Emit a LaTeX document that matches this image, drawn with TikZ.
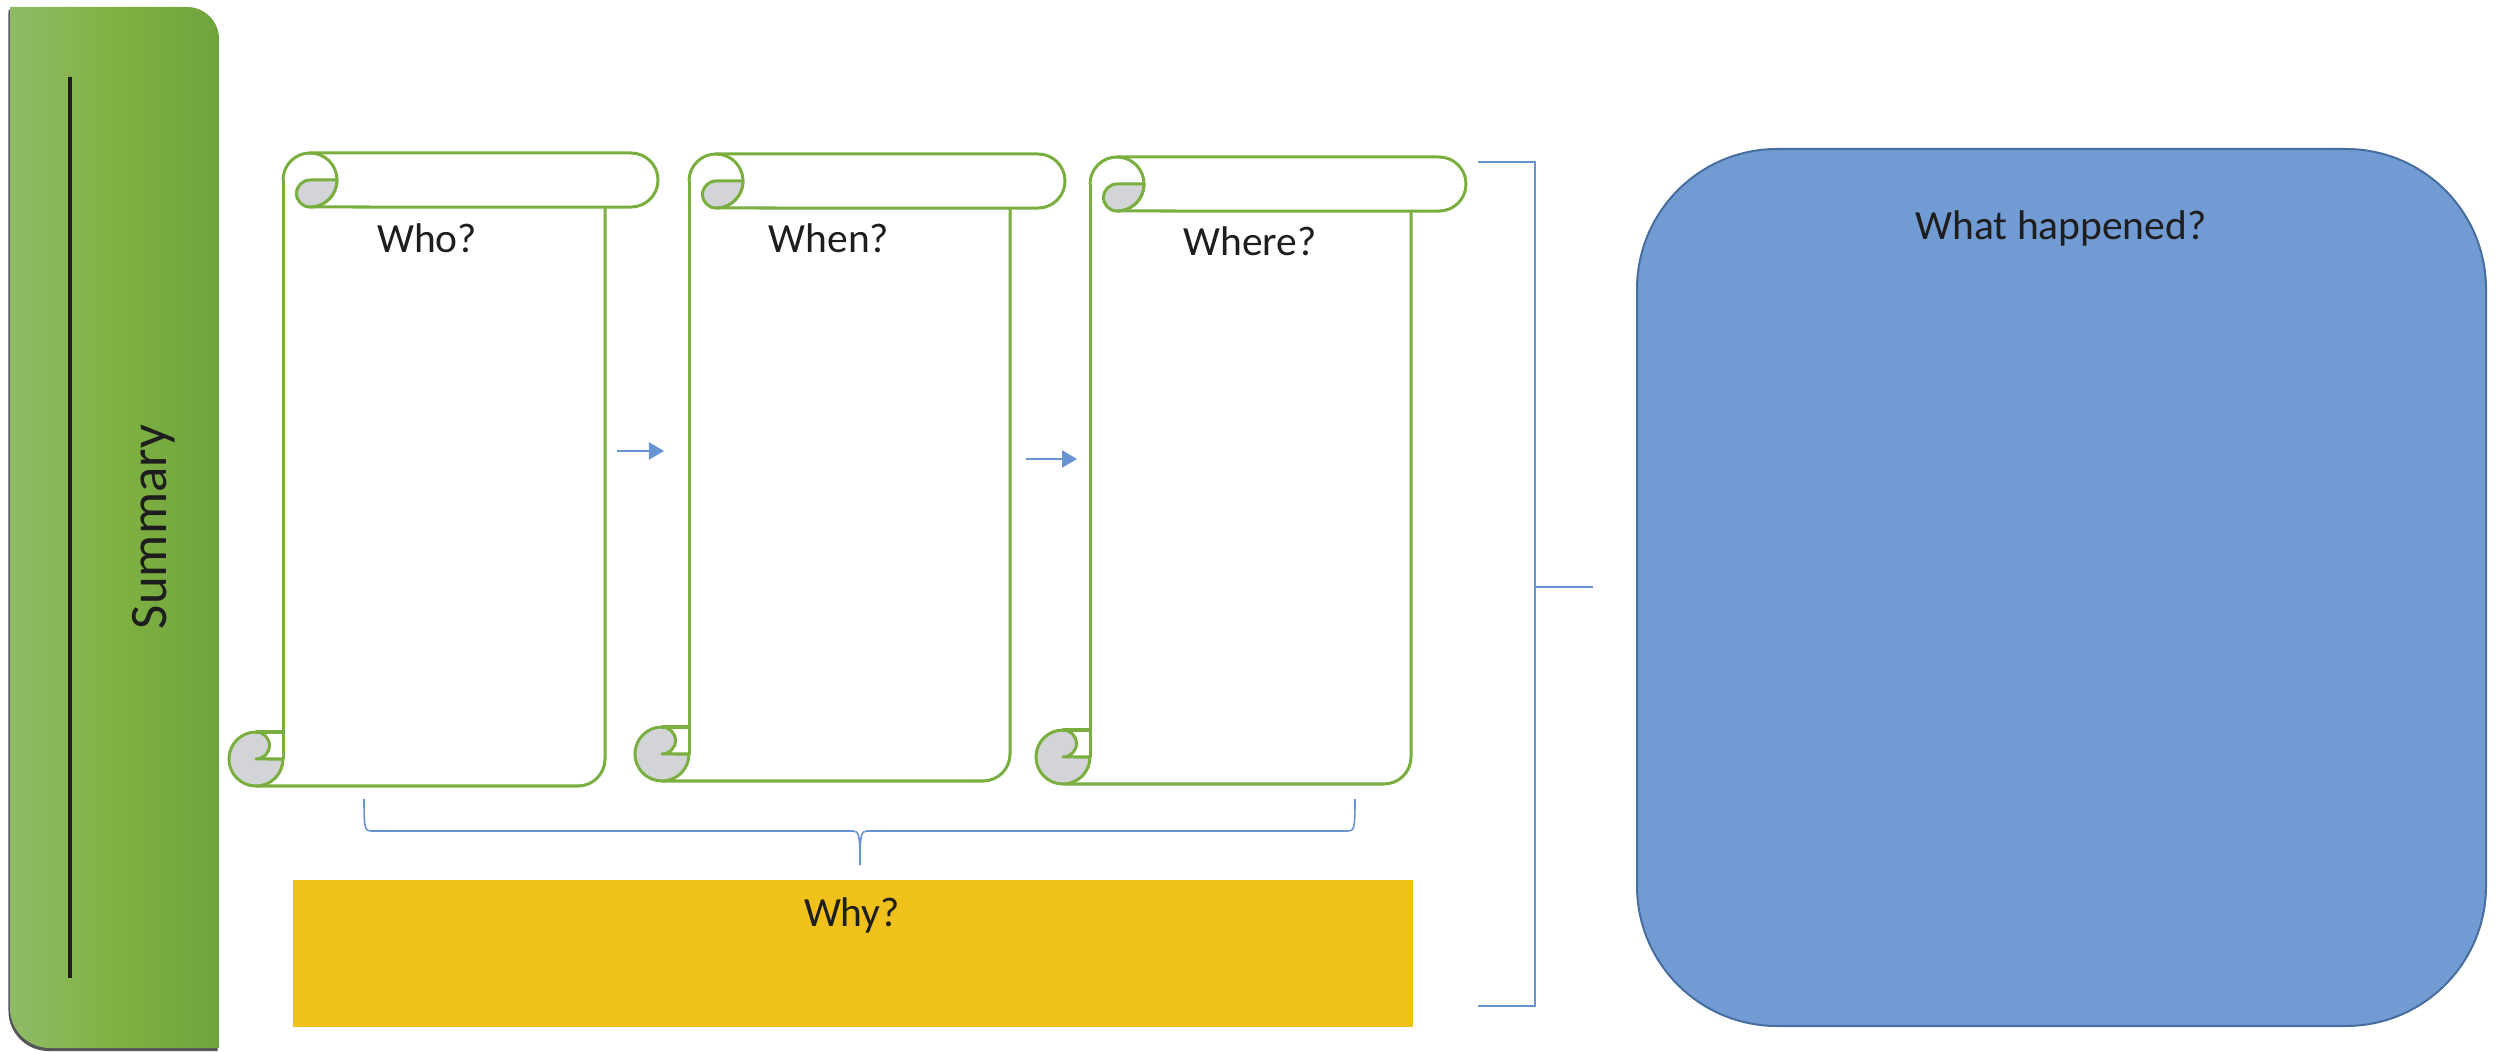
\documentclass[tikz,border=0pt]{standalone}
\usepackage{fontspec}
\setmainfont{Carlito}
\usetikzlibrary{arrows.meta}

\definecolor{scrollgreen}{RGB}{122,174,62}
\definecolor{curlgray}{RGB}{210,212,215}
\definecolor{linkblue}{RGB}{105,148,212}
\definecolor{barleft}{RGB}{143,187,102}
\definecolor{barmid}{RGB}{128,178,66}
\definecolor{barright}{RGB}{111,163,62}
\definecolor{barshadow}{RGB}{85,85,90}
\definecolor{whyfill}{RGB}{240,193,26}
\definecolor{whatfill}{RGB}{113,155,210}
\definecolor{whatline}{RGB}{72,110,160}
\definecolor{labeltext}{RGB}{30,30,30}

\def\scrollr{0.27cm}
\def\scrollq{0.135cm}

% a scroll: #1 name, #2 left, #3 top, #4 body right, #5 bottom, #6 banner right
\newcommand\drawscroll[6]{%
  \draw[scrollline] ({#2},{#3+27}) -- ({#2},{#5-27});
  \draw[scrollline] ({#2-27},{#5}) -- ({#4-27},{#5})
        arc[start angle=-90,end angle=0,radius=\scrollr] -- ({#4},{#3+54});
  \draw[scrollline] ({#2+27},{#3}) -- ({#6-27},{#3})
        arc[start angle=90,end angle=-90,radius=\scrollr] -- ({#2+27},{#3+54});
  \draw[scrollline] ({#2},{#3+27}) arc[start angle=180,end angle=-90,radius=\scrollr];
  \draw[curl] ({#2+27},{#3+27}) -- ({#2+54},{#3+27})
        arc[start angle=0,end angle=-90,radius=\scrollr]
        arc[start angle=270,end angle=90,radius=\scrollq] -- cycle;
  \draw[curl] ({#2},{#5-27})
        arc[start angle=0,end angle=-270,radius=\scrollr]
        arc[start angle=90,end angle=-90,radius=\scrollq] -- cycle;
  \draw[scrollline] ({#2-27},{#5-54}) -- ({#2},{#5-54});
  \coordinate (#1-nw) at ({#2},{#3});
  \coordinate (#1-se) at ({#4},{#5});
}

% outline of the summary bar: square top-left and bottom-right corners
\newcommand\barpath{(10,7) -- (187,7) arc[start angle=90,end angle=0,radius=0.32cm]
     -- (219,1048) -- (50,1048) arc[start angle=-90,end angle=-180,radius=0.4cm] -- cycle}

\begin{document}
\begin{tikzpicture}[x=0.01cm,y=-0.01cm,
  scrollline/.style={draw=scrollgreen,line width=0.03cm,line join=round},
  curl/.style={scrollline,fill=curlgray},
  link/.style={draw=linkblue,line width=0.016cm},
  flow/.style={draw=linkblue,line width=0.022cm,-{Triangle[length=0.15cm,width=0.17cm]}},
  label/.style={text=labeltext,font=\fontsize{11.8}{14}\selectfont,anchor=base,inner sep=0pt}]
\useasboundingbox (0,0) rectangle (2505,1052);

% summary bar with its shadow
\fill[barshadow,shift={(-1.5,3)}] \barpath;
\shade[left color=barleft,right color=barright,middle color=barmid] \barpath;
\coordinate (rule-top) at (70,77);
\coordinate (rule-bot) at (70,978);
\draw[labeltext,line width=0.03cm] (rule-top) -- (rule-bot);
\node[text=labeltext,font=\fontsize{15}{18}\selectfont,rotate=90,inner sep=0pt]
     (summary) at (154,527) {Summary};

% the three scrolls
\drawscroll{s1}{283}{153}{605}{786}{658}
\drawscroll{s2}{689}{154}{1010}{781}{1065}
\drawscroll{s3}{1090}{157}{1411}{784}{1466}
\node[label] (who) at (427,253) {Who?};
\node[label] (when) at (829,253) {When?};
\node[label] (where) at (1250,256) {Where?};

% arrows between the scrolls
\coordinate (f1a) at (617,451);
\coordinate (f1b) at (664,451);
\coordinate (f2a) at (1026,459);
\coordinate (f2b) at (1077,459);
\draw[flow] (f1a) -- (f1b);
\draw[flow] (f2a) -- (f2b);

% brace under the scrolls
\coordinate (br-l) at (364,799);
\coordinate (br-tip) at (860,865);
\coordinate (br-r) at (1355,799);
\draw[link] (br-l) .. controls (364,829) and (365,831) .. (371,831) -- (853,831)
     .. controls (859,831) and (860,835) .. (br-tip);
\draw[link] (br-tip) .. controls (860,835) and (861,831) .. (867,831) -- (1348,831)
     .. controls (1354,831) and (1355,829) .. (br-r);

% why box
\node[fill=whyfill,inner sep=0pt,minimum width=11.2cm,minimum height=1.47cm,anchor=north west]
     (whybox) at (292,879) {};
\node[label] (why) at (852,926) {Why?};

% bracket joining the scrolls to the story box
\coordinate (bk-t) at (1478,162);
\coordinate (bk-b) at (1478,1006);
\coordinate (bk-m) at (1593,587);
\draw[link] (bk-t) -- (1535,162) -- (1535,1006) -- (bk-b);
\draw[link] (1535,587) -- (bk-m);

% what happened box
\draw[fill=whatfill,draw=whatline,line width=0.02cm,rounded corners=1.4cm]
     (1637,149) rectangle (2486,1026);
\node[label] (what) at (2061,240) {What happened?};
\end{tikzpicture}
\end{document}
